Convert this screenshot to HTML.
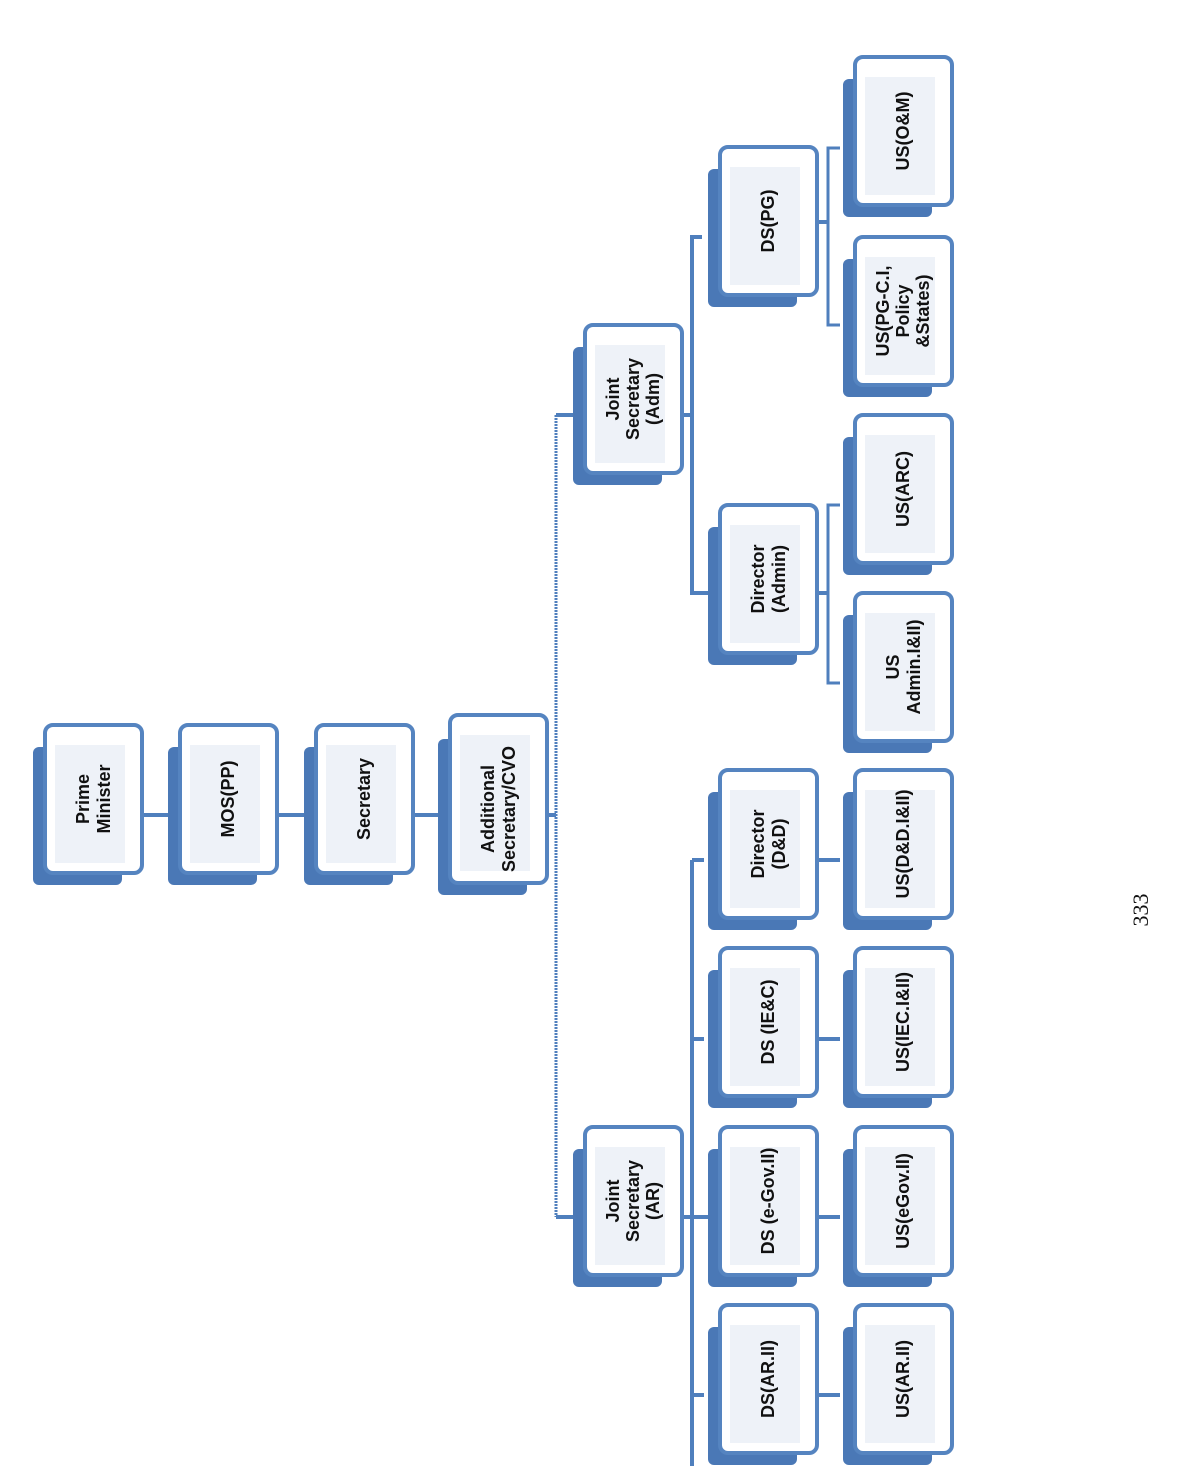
<!DOCTYPE html>
<html><head><style>html,body{margin:0;padding:0;background:#fff}svg{display:block}
text{font-family:"Liberation Sans",sans-serif;font-weight:bold;font-size:18px;fill:#111}</style></head>
<body>
<svg width="1182" height="1466" viewBox="0 0 1182 1466" xmlns="http://www.w3.org/2000/svg">
<defs>
<g id="bx">
<rect x="-12" y="22" width="89" height="138" rx="6" fill="#4a78b6"/>
<rect x="0" y="0" width="97" height="148" rx="8" fill="#fff" stroke="#5584c0" stroke-width="4"/>
<rect x="10" y="20" width="70" height="118" fill="#eef2f8"/>
</g>
</defs>
<g stroke="#4f7fbd" stroke-width="4" fill="none">
<line x1="140" y1="815" x2="180" y2="815"/>
<line x1="275" y1="815" x2="316" y2="815"/>
<line x1="410" y1="815" x2="450" y2="815"/>
<line x1="545" y1="815" x2="556" y2="815"/>
<line x1="556" y1="415" x2="556" y2="1217" stroke-width="3" stroke-dasharray="2 1"/>
<line x1="556" y1="415" x2="585" y2="415"/>
<line x1="556" y1="1217" x2="585" y2="1217"/>
<line x1="680" y1="415" x2="692" y2="415"/>
<polyline points="702,237 692,237 692,593 720,593"/>
<line x1="680" y1="1217" x2="720" y2="1217"/>
<line x1="692" y1="860" x2="692" y2="1466"/>
<line x1="692" y1="860" x2="704" y2="860"/>
<line x1="692" y1="1039" x2="704" y2="1039"/>
<line x1="692" y1="1395" x2="704" y2="1395"/>
<line x1="817" y1="222" x2="828" y2="222"/>
<polyline points="840,148 828,148 828,325 840,325" stroke-width="3"/>
<line x1="817" y1="593" x2="828" y2="593"/>
<polyline points="840,505 828,505 828,683 840,683" stroke-width="3"/>
<line x1="817" y1="860" x2="840" y2="860"/>
<line x1="817" y1="1039" x2="840" y2="1039"/>
<line x1="817" y1="1217" x2="840" y2="1217"/>
<line x1="817" y1="1395" x2="840" y2="1395"/>
</g>
<use href="#bx" x="45" y="725"/>
<use href="#bx" x="180" y="725"/>
<use href="#bx" x="316" y="725"/>
<g transform="translate(450,715)">
<rect x="-12" y="24" width="89" height="156" rx="6" fill="#4a78b6"/>
<rect x="0" y="0" width="97" height="168" rx="8" fill="#fff" stroke="#5584c0" stroke-width="4"/>
<rect x="10" y="20" width="70" height="136" fill="#eef2f8"/>
</g>
<use href="#bx" x="585" y="325"/>
<use href="#bx" x="585" y="1127"/>
<use href="#bx" x="720" y="147"/>
<use href="#bx" x="720" y="505"/>
<use href="#bx" x="720" y="770"/>
<use href="#bx" x="720" y="948"/>
<use href="#bx" x="720" y="1127"/>
<use href="#bx" x="720" y="1305"/>
<use href="#bx" x="855" y="57"/>
<use href="#bx" x="855" y="237"/>
<use href="#bx" x="855" y="415"/>
<use href="#bx" x="855" y="593"/>
<use href="#bx" x="855" y="770"/>
<use href="#bx" x="855" y="948"/>
<use href="#bx" x="855" y="1127"/>
<use href="#bx" x="855" y="1305"/>
<g text-anchor="middle">
<text transform="translate(93,799) rotate(-90)"><tspan x="0" y="-4">Prime</tspan><tspan x="0" y="17">Minister</tspan></text>
<text transform="translate(234,799) rotate(-90)">MOS(PP)</text>
<text transform="translate(370,799) rotate(-90)">Secretary</text>
<text transform="translate(498,809) rotate(-90)"><tspan x="0" y="-4">Additional</tspan><tspan x="0" y="17">Secretary/CVO</tspan></text>
<text transform="translate(633,399) rotate(-90)"><tspan x="0" y="-14">Joint</tspan><tspan x="0" y="6">Secretary</tspan><tspan x="0" y="26">(Adm)</tspan></text>
<text transform="translate(633,1201) rotate(-90)"><tspan x="0" y="-14">Joint</tspan><tspan x="0" y="6">Secretary</tspan><tspan x="0" y="26">(AR)</tspan></text>
<text transform="translate(774,221) rotate(-90)">DS(PG)</text>
<text transform="translate(768,579) rotate(-90)"><tspan x="0" y="-4">Director</tspan><tspan x="0" y="17">(Admin)</tspan></text>
<text transform="translate(768,844) rotate(-90)"><tspan x="0" y="-4">Director</tspan><tspan x="0" y="17">(D&amp;D)</tspan></text>
<text transform="translate(774,1022) rotate(-90)">DS (IE&amp;C)</text>
<text transform="translate(774,1201) rotate(-90)">DS (e-Gov.II)</text>
<text transform="translate(774,1379) rotate(-90)">DS(AR.II)</text>
<text transform="translate(909,131) rotate(-90)">US(O&amp;M)</text>
<text transform="translate(903,311) rotate(-90)"><tspan x="0" y="-14">US(PG-C.I,</tspan><tspan x="0" y="6">Policy</tspan><tspan x="0" y="26">&amp;States)</tspan></text>
<text transform="translate(909,489) rotate(-90)">US(ARC)</text>
<text transform="translate(903,667) rotate(-90)"><tspan x="0" y="-4">US</tspan><tspan x="0" y="17">Admin.I&amp;II)</tspan></text>
<text transform="translate(909,844) rotate(-90)">US(D&amp;D.I&amp;II)</text>
<text transform="translate(909,1022) rotate(-90)">US(IEC.I&amp;II)</text>
<text transform="translate(909,1201) rotate(-90)">US(eGov.II)</text>
<text transform="translate(909,1379) rotate(-90)">US(AR.II)</text>
<text transform="translate(1148,910) rotate(-90)" style="font-family:'Liberation Serif',serif;font-weight:normal;font-size:22px">333</text>
</g>
</svg>
</body></html>
